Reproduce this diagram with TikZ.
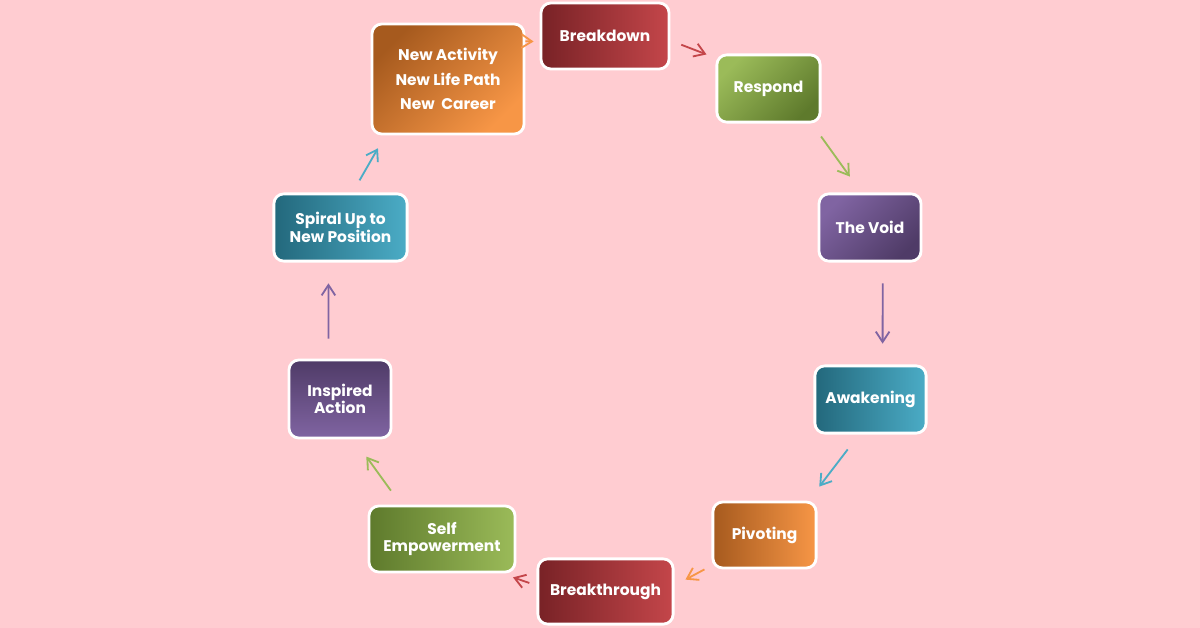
\documentclass[tikz,border=0pt]{standalone}
\usepackage{fontspec}
\setmainfont{Poppins}
\usetikzlibrary{arrows.meta}
\definecolor{bgpink}{HTML}{FFCCD1}
\definecolor{orgL}{HTML}{F79646}
\definecolor{orgD}{HTML}{A65A1E}
\definecolor{redL}{HTML}{C4464A}
\definecolor{redD}{HTML}{782226}
\definecolor{grnL}{HTML}{9BBB59}
\definecolor{grnD}{HTML}{5E7A2C}
\definecolor{purL}{HTML}{8064A2}
\definecolor{purD}{HTML}{4F3B67}
\definecolor{tealL}{HTML}{4BACC6}
\definecolor{tealD}{HTML}{23687C}
\tikzset{stage/.style={rectangle, rounded corners=7pt, draw=white, line width=2pt,
    inner sep=0pt, text=white, align=center,
    font=\bfseries\fontsize{11}{12.5}\selectfont}}
\tikzset{link/.style={line width=1.3pt, -{Straight Barb[length=2.6mm,width=3.4mm]}}}

\begin{document}
\begin{tikzpicture}[x=0.025cm,y=-0.025cm]
  \fill[bgpink] (0,0) rectangle (1200,628);
  \useasboundingbox (0,0) rectangle (1200,628);
  \foreach \n/\x/\y/\w/\h/\col/\a/\t in {
    act/448/79/3.8/2.75/org/45/{New Activity\\[5pt]New Life Path\\[5pt]New~ Career},
    brk/605/36/3.2/1.65/red/90/Breakdown,
    resp/768.5/88.5/2.58/1.68/grn/225/Respond,
    void/870/227.5/2.55/1.68/pur/225/The Void,
    awak/870.5/399.5/2.78/1.68/teal/90/Awakening,
    piv/764.5/535/2.58/1.65/org/90/Pivoting,
    thru/605.5/591.5/3.38/1.63/red/90/Breakthrough,
    self/442/539/3.65/1.65/grn/90/{Self\\Empowerment},
    insp/340/399/2.55/1.95/pur/0/{Inspired\\Action},
    spir/340.5/227.5/3.33/1.68/teal/90/{Spiral Up to\\New Position}%
  } {
    \node[stage, minimum width=\w cm, minimum height=\h cm,
      top color=\col D, bottom color=\col L, shading angle=\a] (\n) at (\x,\y) {\t};
  }
  \foreach \u/\p/\v/\q/\s/\e/\col in {
    act/26/brk/185/0/0.15/org,
    brk/-4/resp/150/0.29/0.24/red,
    resp/-39/void/104/0.4/0.49/grn,
    void/-70/awak/71/0.52/0.52/pur,
    awak/-108/piv/38/0.47/0.44/teal,
    piv/210/thru/5/0.2/0.31/org,
    thru/175/self/-30/0.19/0.3/red,
    self/140/insp/-71/0.43/0.53/grn,
    insp/106/spir/-109/0.5/0.52/pur,
    spir/71/act/-138/0.35/0.37/teal%
  }{
    \draw[link, \col L, shorten <=\s cm, shorten >=\e cm] (\u.\p) -- (\v.\q);
  }
\end{tikzpicture}
\end{document}
